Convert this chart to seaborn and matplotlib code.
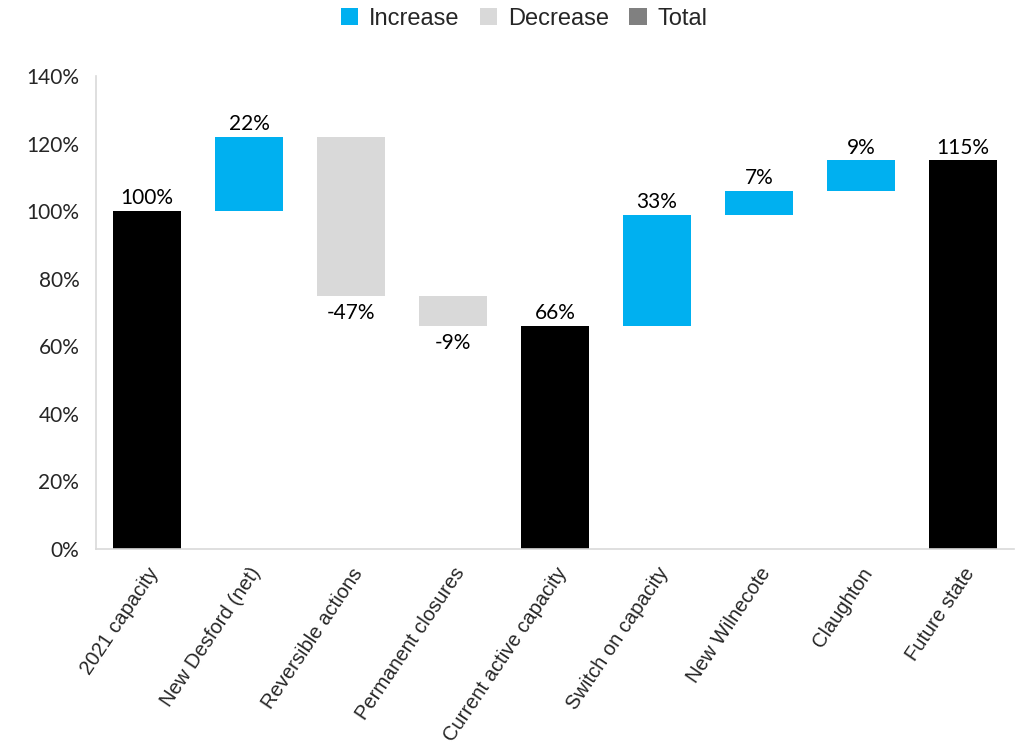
import matplotlib
matplotlib.use("Agg")
import matplotlib.pyplot as plt
from matplotlib.patches import Patch
import seaborn as sns

# Waterfall steps (percent of 2021 capacity)
categories = ["2021 capacity", "New Desford (net)", "Reversible actions",
              "Permanent closures", "Current active capacity", "Switch on capacity",
              "New Wilnecote", "Claughton", "Future state"]
values = [100, 22, -47, -9, 66, 33, 7, 9, 115]
kinds = ["Total", "Increase", "Decrease", "Decrease", "Total",
         "Increase", "Increase", "Increase", "Total"]
y_ticks = [0, 20, 40, 60, 80, 100, 120, 140]

kind_colors = {"Increase": "#00B0F0", "Decrease": "#D9D9D9", "Total": "#000000"}
legend_colors = {"Increase": "#00B0F0", "Decrease": "#D9D9D9", "Total": "#808080"}

# Bottoms and heights of each floating bar
bottoms, heights = [], []
running = 0
for v, k in zip(values, kinds):
    if k == "Total":
        bottoms.append(0)
        heights.append(v)
        running = v
    elif v >= 0:
        bottoms.append(running)
        heights.append(v)
        running += v
    else:
        running += v
        bottoms.append(running)
        heights.append(-v)

sns.set_theme(style="white")
num_font = "Lato"
txt_font = "Liberation Sans"

fig = plt.figure(figsize=(10.2, 7.54), dpi=100)
ax = fig.add_axes([96 / 1020, 1 - 549 / 754, (1014 - 96) / 1020, (549 - 76) / 754])

bar_colors = [kind_colors[k] for k in kinds]
sns.barplot(x=categories, y=heights, hue=categories, palette=bar_colors,
            legend=False, width=0.667, saturation=1, ax=ax, order=categories)

for patch, b in zip(ax.patches, bottoms):
    patch.set_y(b)
    patch.set_linewidth(0)

# Value labels
for i, (v, k, b, h) in enumerate(zip(values, kinds, bottoms, heights)):
    label = f"{v}%"
    if k == "Decrease":
        ax.annotate(label, (i, b), xytext=(0, -5), textcoords="offset points",
                    ha="center", va="top", fontsize=15, family=num_font, color="#000000")
    else:
        ax.annotate(label, (i, b + h), xytext=(0, 2), textcoords="offset points",
                    ha="center", va="bottom", fontsize=15, family=num_font, color="#000000")

ax.set_ylim(0, 140)
ax.set_xlim(-0.5, len(categories) - 0.5)
ax.set_yticks(y_ticks)
ax.set_yticklabels([f"{t}%" for t in y_ticks], fontsize=15, family=num_font)
ax.set_xticks(range(len(categories)))
ax.set_xticklabels(categories, rotation=56, ha="right", rotation_mode="anchor",
                   fontsize=14.5, family=txt_font)
ax.tick_params(axis="y", length=0, pad=12)
ax.tick_params(axis="x", length=0, pad=11)
ax.set_xlabel("")
ax.set_ylabel("")

for side in ["top", "right"]:
    ax.spines[side].set_visible(False)
for side in ["left", "bottom"]:
    ax.spines[side].set_color("#D9D9D9")
    ax.spines[side].set_linewidth(1.2)

handles = [Patch(facecolor=legend_colors[k], edgecolor="none", label=k)
           for k in ["Increase", "Decrease", "Total"]]
fig.legend(handles=handles, loc="center", bbox_to_anchor=(524 / 1020, 1 - 19 / 754),
           ncol=3, frameon=False, prop={"family": txt_font, "size": 17},
           handlelength=0.75, handleheight=0.75, handletextpad=0.45,
           columnspacing=0.85, borderaxespad=0)

fig.savefig("out.png", dpi=100)
